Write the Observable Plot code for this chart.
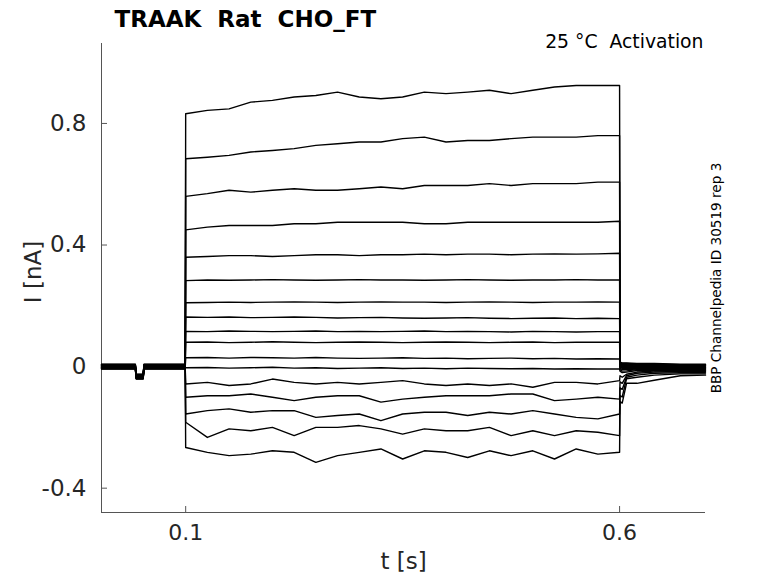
<!DOCTYPE html>
<html>
<head>
<meta charset="utf-8">
<script src="https://cdn.jsdelivr.net/npm/d3@7"></script>
<script src="https://cdn.jsdelivr.net/npm/@observablehq/plot@0.6"></script>
<style>
  html, body { margin: 0; padding: 0; background: #fff; }
  #chart svg { display: block; }
</style>
</head>
<body>
<div id="chart"></div>
<script>
// ---- Text ----
const titleText = "TRAAK\u00a0\u00a0Rat\u00a0\u00a0CHO_FT";
const cornerText = "25 °C\u00a0\u00a0Activation";
const sideText = "BBP Channelpedia ID 30519 rep 3";
const xLabel = "t [s]";
const yLabel = "I [nA]";

// ---- Axes ----
const xDomain = [0.003, 0.699];
const yDomain = [-0.48, 1.063];
const xTicks = [0.1, 0.6];
const yTicks = [-0.4, 0, 0.4, 0.8];

// ---- Holding segment before the step (shared shape, per-trace offset) ----
const baseTimes = [0.003, 0.042, 0.043, 0.051, 0.052, 0.0995];
const baseShape = [0, 0, -0.033, -0.033, 0, 0];
const baseOffset = [0.008, 0.007, 0.006, 0.005, 0.004, 0.003, 0.002, 0.001, 0,
                    -0.001, -0.002, -0.003, -0.004, -0.005, -0.006, -0.007, -0.008];

// ---- Step segment (nA), sampled every 25 ms ----
const stepTimes = [0.1, 0.125, 0.15, 0.175, 0.2, 0.225, 0.25, 0.275, 0.3, 0.325, 0.35,
                   0.375, 0.4, 0.425, 0.45, 0.475, 0.5, 0.525, 0.55, 0.575, 0.6];
const trace01 = [0.832,0.843,0.848,0.870,0.876,0.887,0.892,0.903,0.887,0.881,0.887,0.903,0.898,0.903,0.909,0.898,0.909,0.920,0.925,0.925,0.925];
const trace02 = [0.684,0.689,0.695,0.706,0.711,0.717,0.728,0.733,0.739,0.739,0.750,0.755,0.739,0.744,0.744,0.750,0.755,0.755,0.755,0.760,0.760];
const trace03 = [0.560,0.569,0.580,0.574,0.580,0.585,0.580,0.580,0.585,0.591,0.585,0.596,0.596,0.596,0.602,0.596,0.602,0.602,0.602,0.607,0.607];
const trace04 = [0.450,0.459,0.464,0.464,0.464,0.470,0.470,0.475,0.475,0.475,0.475,0.470,0.470,0.475,0.475,0.475,0.475,0.475,0.475,0.475,0.478];
const trace05 = [0.360,0.362,0.365,0.365,0.362,0.365,0.368,0.368,0.365,0.368,0.368,0.370,0.368,0.370,0.370,0.368,0.370,0.371,0.370,0.371,0.373];
const trace06 = [0.283,0.285,0.284,0.285,0.286,0.285,0.284,0.285,0.286,0.285,0.285,0.284,0.285,0.286,0.285,0.284,0.285,0.285,0.286,0.285,0.285];
const trace07 = [0.210,0.211,0.212,0.211,0.212,0.213,0.212,0.211,0.212,0.213,0.212,0.212,0.211,0.212,0.213,0.212,0.211,0.212,0.212,0.213,0.212];
const trace08 = [0.163,0.162,0.163,0.161,0.162,0.163,0.162,0.160,0.161,0.162,0.160,0.159,0.160,0.161,0.159,0.158,0.159,0.160,0.158,0.159,0.158];
const trace09 = [0.116,0.115,0.117,0.116,0.115,0.116,0.117,0.115,0.116,0.115,0.116,0.117,0.115,0.116,0.115,0.114,0.116,0.115,0.114,0.115,0.115];
const trace10 = [0.080,0.081,0.079,0.080,0.082,0.080,0.079,0.080,0.081,0.080,0.079,0.080,0.081,0.080,0.079,0.080,0.081,0.079,0.080,0.080,0.080];
const trace11 = [0.029,0.030,0.028,0.030,0.029,0.028,0.030,0.028,0.027,0.028,0.029,0.027,0.028,0.026,0.027,0.028,0.026,0.027,0.025,0.026,0.025];
const trace12 = [-0.004,-0.003,-0.005,-0.004,-0.002,-0.005,-0.004,-0.006,-0.005,-0.004,-0.006,-0.005,-0.007,-0.005,-0.006,-0.007,-0.006,-0.008,-0.007,-0.008,-0.008];
const trace13 = [-0.057,-0.052,-0.062,-0.057,-0.041,-0.052,-0.057,-0.052,-0.057,-0.052,-0.046,-0.057,-0.062,-0.057,-0.062,-0.057,-0.068,-0.052,-0.052,-0.057,-0.046];
const trace14 = [-0.101,-0.096,-0.096,-0.090,-0.101,-0.112,-0.101,-0.096,-0.096,-0.117,-0.107,-0.101,-0.096,-0.096,-0.096,-0.090,-0.090,-0.112,-0.107,-0.101,-0.107];
const trace15 = [-0.156,-0.145,-0.139,-0.150,-0.145,-0.145,-0.167,-0.161,-0.156,-0.178,-0.156,-0.150,-0.150,-0.161,-0.150,-0.156,-0.145,-0.156,-0.167,-0.172,-0.156];
const trace16 = [-0.183,-0.233,-0.205,-0.211,-0.200,-0.227,-0.200,-0.200,-0.194,-0.205,-0.222,-0.205,-0.211,-0.211,-0.200,-0.227,-0.211,-0.227,-0.211,-0.216,-0.227];
const trace17 = [-0.266,-0.282,-0.293,-0.288,-0.277,-0.282,-0.315,-0.293,-0.282,-0.271,-0.304,-0.277,-0.282,-0.299,-0.277,-0.293,-0.277,-0.304,-0.271,-0.288,-0.282];

// ---- Tail after the step (nA) ----
const tailTimes = [0.6005, 0.603, 0.608, 0.62, 0.64, 0.67, 0.699];
const tail01 = [0.015,0.012,0.012,0.010,0.010,0.008,0.008];
const tail02 = [0.012,0.010,0.010,0.008,0.008,0.006,0.006];
const tail03 = [0.010,0.008,0.008,0.006,0.006,0.005,0.005];
const tail04 = [0.008,0.006,0.006,0.004,0.004,0.003,0.003];
const tail05 = [0.006,0.004,0.004,0.002,0.002,0.002,0.002];
const tail06 = [0.004,0.002,0.002,0.000,0.000,0.000,0.000];
const tail07 = [0.002,0.000,0.000,-0.002,-0.002,-0.002,-0.002];
const tail08 = [0.000,-0.003,-0.003,-0.004,-0.004,-0.004,-0.004];
const tail09 = [-0.003,-0.006,-0.006,-0.006,-0.006,-0.006,-0.006];
const tail10 = [-0.006,-0.010,-0.010,-0.008,-0.008,-0.008,-0.008];
const tail11 = [-0.010,-0.015,-0.014,-0.010,-0.010,-0.010,-0.010];
const tail12 = [-0.015,-0.020,-0.018,-0.013,-0.012,-0.012,-0.012];
const tail13 = [-0.030,-0.035,-0.025,-0.018,-0.015,-0.014,-0.014];
const tail14 = [-0.050,-0.055,-0.030,-0.022,-0.018,-0.016,-0.016];
const tail15 = [-0.070,-0.075,-0.035,-0.028,-0.022,-0.020,-0.020];
const tail16 = [-0.095,-0.100,-0.040,-0.035,-0.028,-0.024,-0.024];
const tail17 = [-0.115,-0.120,-0.055,-0.055,-0.045,-0.030,-0.028];

const steps = [trace01,trace02,trace03,trace04,trace05,trace06,trace07,trace08,trace09,
               trace10,trace11,trace12,trace13,trace14,trace15,trace16,trace17];
const tails = [tail01,tail02,tail03,tail04,tail05,tail06,tail07,tail08,tail09,
               tail10,tail11,tail12,tail13,tail14,tail15,tail16,tail17];

// ---- Build a long table ----
const rows = [];
steps.forEach((s, i) => {
  baseTimes.forEach((t, j) => rows.push({trace: i, t, v: baseShape[j] + baseOffset[i]}));
  stepTimes.forEach((t, j) => rows.push({trace: i, t, v: s[j]}));
  tailTimes.forEach((t, j) => rows.push({trace: i, t, v: tails[i][j]}));
});

const W = 778, H = 583;
const mL = 101, mR = 73, mT = 43, mB = 71;
const plotW = W - mL - mR, plotH = H - mT - mB;
const axisColor = "#555555";
const textColor = "#262626";

const chart = Plot.plot({
  width: W,
  height: H,
  marginLeft: mL,
  marginRight: mR,
  marginTop: mT,
  marginBottom: mB,
  style: {fontFamily: "DejaVu Sans", color: textColor, background: "#fff", overflow: "visible"},
  x: {domain: xDomain},
  y: {domain: yDomain},
  marks: [
    Plot.axisX({ticks: xTicks, tickSize: 0, tickPadding: 12, label: null, fontSize: 22,
                tickFormat: d => String(d), fill: textColor}),
    Plot.axisY({ticks: yTicks, tickSize: 0, tickPadding: 15, label: null, fontSize: 23,
                tickFormat: d => String(d), fill: textColor}),
    Plot.tickY(yTicks, {y: d => d, insetRight: plotW - 6, stroke: axisColor}),
    Plot.tickX(xTicks, {x: d => d, insetTop: plotH - 6, stroke: axisColor}),
    Plot.ruleX([xDomain[0]], {stroke: axisColor}),
    Plot.ruleY([yDomain[0]], {stroke: axisColor}),
    Plot.line(rows, {x: "t", y: "v", z: "trace", stroke: "black", strokeWidth: 1.4,
                     curve: "linear"}),
    Plot.text([titleText], {frameAnchor: "top-left", dx: 13, dy: -17, textAnchor: "start",
                            lineAnchor: "bottom", fontSize: 23, fontWeight: "bold", fill: "black"}),
    Plot.text([cornerText], {frameAnchor: "top-right", dx: -2, dy: 4, textAnchor: "end",
                             lineAnchor: "bottom", fontSize: 18.8, fill: "black"}),
    Plot.text([sideText], {frameAnchor: "right", dx: 11, rotate: -90, fontSize: 13.6,
                           textAnchor: "middle", lineAnchor: "middle", fill: "black"}),
    Plot.text([yLabel], {frameAnchor: "left", dx: -68, dy: -6, rotate: -90, fontSize: 23,
                         textAnchor: "middle", lineAnchor: "middle", fill: textColor}),
    Plot.text([xLabel], {frameAnchor: "bottom", dy: 56, fontSize: 23, fill: textColor})
  ]
});
document.getElementById("chart").appendChild(chart);
</script>
</body>
</html>
